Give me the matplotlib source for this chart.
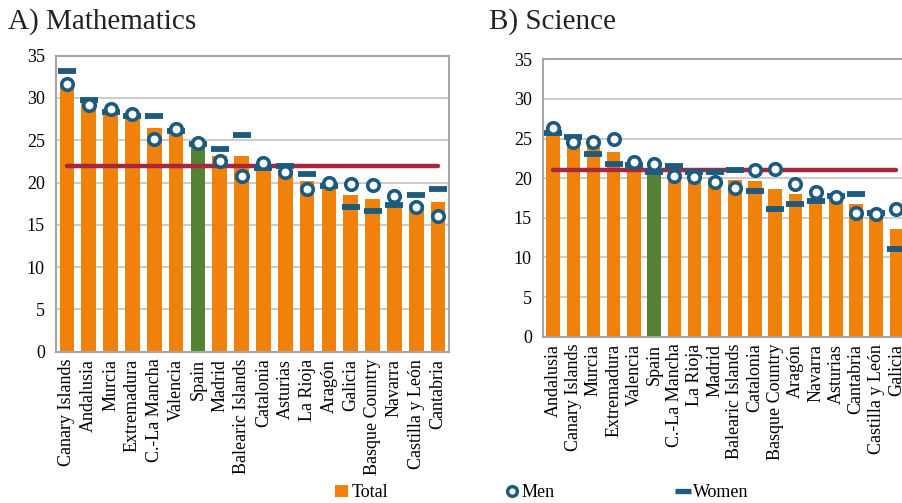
import matplotlib.pyplot as plt
from matplotlib.lines import Line2D
from matplotlib.patches import Patch
import numpy as np

plt.rcParams['font.family'] = ['Liberation Serif', 'DejaVu Serif']

# A) Mathematics
math_regions = ["Canary Islands", "Andalusia", "Murcia", "Extremadura", "C.-La Mancha",
                "Valencia", "Spain", "Madrid", "Balearic Islands", "Catalonia", "Asturias",
                "La Rioja", "Aragón", "Galicia", "Basque Country", "Navarra",
                "Castilla y León", "Cantabria"]
math_total = [31.9, 29.5, 28.4, 27.9, 26.4, 25.9, 24.5, 23.1, 23.1, 22.0, 21.5,
              20.2, 19.7, 18.5, 18.1, 17.6, 17.5, 17.7]
math_men = [31.7, 29.2, 28.7, 28.1, 25.1, 26.3, 24.7, 22.5, 20.8, 22.3, 21.3,
            19.2, 19.9, 19.8, 19.7, 18.4, 17.1, 16.1]
math_women = [33.2, 29.8, 28.3, 27.9, 27.9, 26.1, 24.5, 24.0, 25.6, 21.7, 22.0,
              21.0, 19.6, 17.1, 16.6, 17.3, 18.5, 19.2]
math_ref = 22.0

# B) Science
sci_regions = ["Andalusia", "Canary Islands", "Murcia", "Extremadura", "Valencia", "Spain",
               "C.-La Mancha", "La Rioja", "Madrid", "Balearic Islands", "Catalonia",
               "Basque Country", "Aragón", "Navarra", "Asturias", "Cantabria",
               "Castilla y León", "Galicia"]
sci_total = [25.8, 24.9, 24.0, 23.3, 21.8, 21.0, 20.9, 20.4, 20.0, 19.8, 19.6,
             18.6, 18.0, 17.5, 17.4, 16.8, 15.2, 13.6]
sci_men = [26.3, 24.6, 24.6, 25.0, 22.0, 21.8, 20.3, 20.1, 19.5, 18.7, 21.0,
           21.2, 19.3, 18.2, 17.6, 15.6, 15.5, 16.1]
sci_women = [25.7, 25.2, 23.1, 21.8, 21.7, 20.8, 21.5, 20.8, 20.8, 21.0, 18.4,
             16.1, 16.7, 17.1, 17.7, 18.0, 15.6, 11.1]
sci_ref = 21.0

ORANGE = '#F0820C'
GREEN = '#548235'
BLUE = '#1D5A80'
RED = '#A7283A'


def draw_panel(ax, regions, total, men, women, ref):
    x = np.arange(len(regions))
    colors = [GREEN if r == "Spain" else ORANGE for r in regions]
    ax.bar(x, total, width=0.67, color=colors, zorder=2)
    ax.plot([x[0], x[-1]], [ref, ref], color=RED, lw=3.2, solid_capstyle='round', zorder=3)
    ax.plot(x, women, ls='none', marker='_', markersize=13, mew=4.2, color=BLUE, zorder=4)
    ax.plot(x, men, ls='none', marker='o', markersize=8.3, mew=2.6,
            markeredgecolor=BLUE, markerfacecolor='white', zorder=5)
    ax.set_xlim(-0.5, len(regions) - 0.5)
    ax.set_ylim(0, 35)
    ax.set_yticks(range(0, 36, 5))
    ax.set_xticks(x)
    ax.set_xticklabels(regions, rotation=90, fontsize=13)
    ax.tick_params(axis='y', labelsize=13, length=0, pad=8)
    ax.tick_params(axis='x', length=0, pad=5)
    ax.grid(axis='y', color='#C8C8C8', lw=1.3, zorder=0)
    for s in ax.spines.values():
        s.set_color('#A6A6A6')
        s.set_linewidth(1.5)


fig = plt.figure(figsize=(9.02, 5.03), dpi=100)
ax1 = fig.add_axes([0.0621, 0.3008, 0.4357, 0.5885])
ax2 = fig.add_axes([0.602, 0.3306, 0.403, 0.5515])

draw_panel(ax1, math_regions, math_total, math_men, math_women, math_ref)
draw_panel(ax2, sci_regions, sci_total, sci_men, sci_women, sci_ref)

fig.text(0.009, 0.958, "A) Mathematics", fontsize=21, va='center', ha='left', color='#222222')
fig.text(0.542, 0.958, "B) Science", fontsize=21, va='center', ha='left', color='#222222')

# legend
h_total = Patch(facecolor=ORANGE, edgecolor='none')
h_men = Line2D([], [], ls='none', marker='o', markersize=7, mew=2.5,
               markeredgecolor=BLUE, markerfacecolor='white')
h_women = Line2D([], [], ls='none', marker='_', markersize=11, mew=3.8, color=BLUE)
for h, lab, xp in [(h_total, "Total", 0.401), (h_men, "Men", 0.588), (h_women, "Women", 0.79)]:
    fig.legend([h], [lab], loc='center', bbox_to_anchor=(xp, 0.02), frameon=False,
               fontsize=13, handlelength=0.7, handleheight=0.7, handletextpad=0.2,
               borderpad=0)

fig.savefig("out.png", dpi=100)
